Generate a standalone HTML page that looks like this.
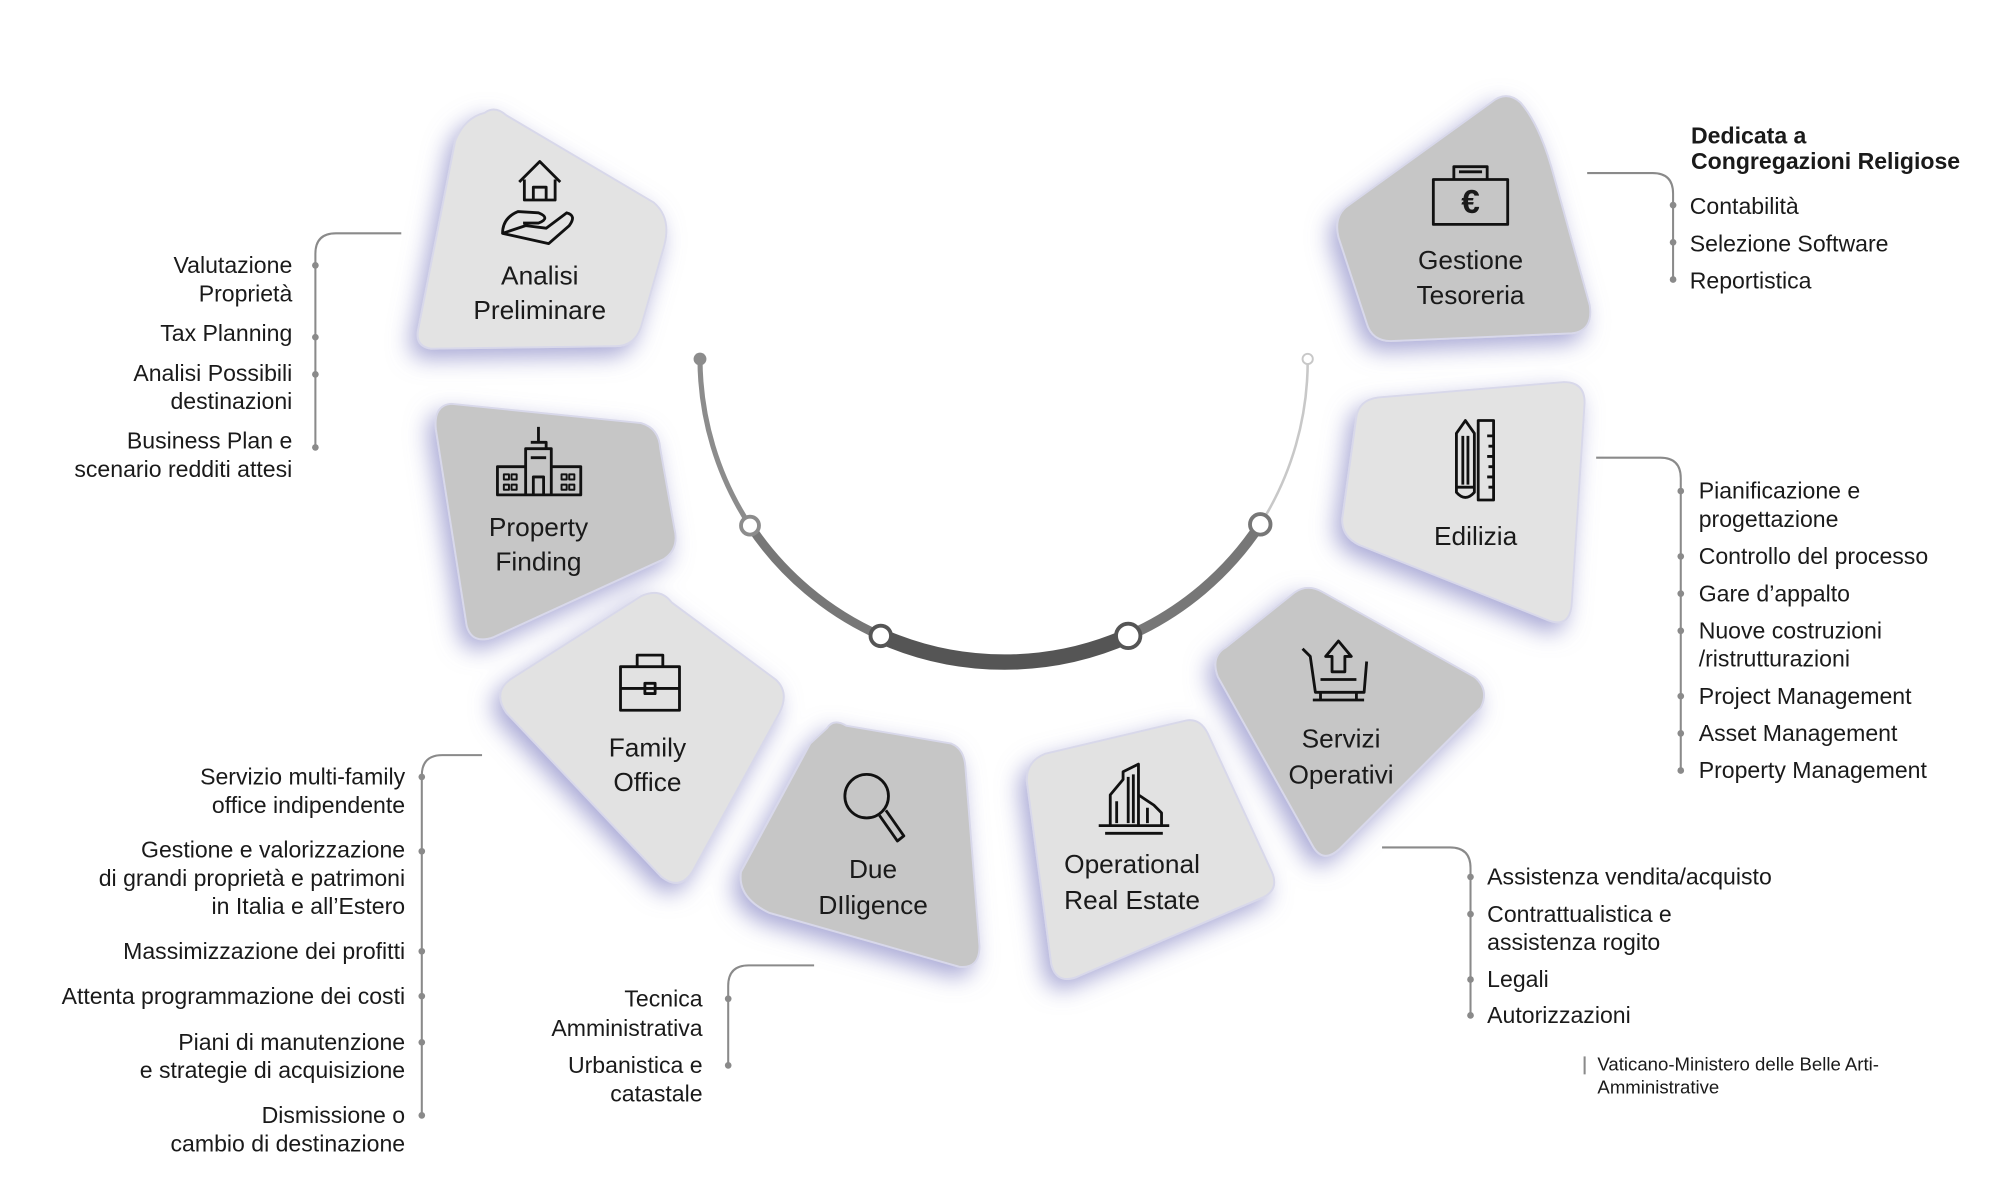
<!DOCTYPE html>
<html><head><meta charset="utf-8"><style>
html,body{margin:0;padding:0;background:#fff}
svg{display:block}
text{font-family:"Liberation Sans",sans-serif;fill:#1a1a1a}
.t{font-size:18px}
.n{font-size:20.5px;text-anchor:middle}
.r{text-anchor:end}
.br{fill:none;stroke:#8a8a8a;stroke-width:1.6}
.d{fill:#8a8a8a}
.ic{fill:none;stroke:#111;stroke-width:2.2;stroke-linejoin:round}
</style></head><body>
<svg width="2000" height="1200" viewBox="0 0 1560 936" xmlns="http://www.w3.org/2000/svg">
<defs>
<filter id="sh" x="-30%" y="-30%" width="160%" height="160%">
<feDropShadow dx="-5" dy="7" stdDeviation="9" flood-color="#7c7cc0" flood-opacity="0.65"/>
</filter>
</defs>

<g filter="url(#sh)" stroke="#d8d8ea" stroke-width="1.5" stroke-linejoin="round">
<path d="M378,88 Q386,82 395,90 L510,158 Q524,170 518,192 L500,255 Q495,270 480,270 L336,272 Q324,270 326,258 L355,110 Q362,92 378,88Z" fill="#e3e3e3"/>
<path d="M352,315 L500,330 Q514,334 515,350 L526,412 Q530,428 518,436 L385,497 Q368,503 364,488 L340,335 Q338,316 352,315Z" fill="#c6c6c6"/>
<path d="M500,465 Q515,458 524,470 L605,530 Q616,540 608,556 L540,680 Q530,695 516,684 L395,556 Q384,540 398,530Z" fill="#e2e2e2"/>
<path d="M645,568 Q650,560 660,566 L742,580 Q752,584 753,598 L764,738 Q764,756 748,754 L600,712 Q575,700 578,680 L632,580Z" fill="#c6c6c6"/>
<path d="M815,588 L925,562 Q936,560 942,572 L992,680 Q998,694 985,700 L840,762 Q824,768 820,752 L801,610 Q800,594 815,588Z" fill="#e2e2e2"/>
<path d="M1010,462 Q1020,455 1032,462 L1150,528 Q1162,538 1155,552 L1045,662 Q1032,674 1024,660 L950,528 Q944,512 956,505Z" fill="#c6c6c6"/>
<path d="M1075,310 L1220,298 Q1236,298 1236,314 L1226,470 Q1225,490 1208,484 L1060,425 Q1046,418 1047,404 L1058,325 Q1060,312 1075,310Z" fill="#e3e3e3"/>
<path d="M1163,80 Q1175,70 1186,80 Q1200,96 1210,130 L1240,238 Q1243,258 1226,260 L1085,266 Q1070,266 1066,252 L1044,185 Q1040,168 1052,160Z" fill="#c6c6c6"/>
</g>

<g fill="none" stroke-linecap="round">
<path d="M546,280 A238,238 0 0 0 585,410" stroke="#8c8c8c" stroke-width="4"/>
<path d="M585,410 A238,238 0 0 0 687,496" stroke="#777" stroke-width="7"/>
<path d="M687,496 A238,238 0 0 0 880,496" stroke="#555" stroke-width="12"/>
<path d="M880,496 A238,238 0 0 0 983,409" stroke="#777" stroke-width="8"/>
<path d="M983,409 A238,238 0 0 0 1020,280" stroke="#c8c8c8" stroke-width="2"/>
</g>
<circle cx="546" cy="280" r="5" fill="#8c8c8c"/>
<circle cx="1020" cy="280" r="4" fill="#fff" stroke="#c8c8c8" stroke-width="1.5"/>
<g fill="#fff" stroke-width="3">
<circle cx="585" cy="410" r="7" stroke="#8c8c8c"/>
<circle cx="687" cy="496" r="8" stroke="#555"/>
<circle cx="880" cy="496" r="9.5" stroke="#555"/>
<circle cx="983" cy="409" r="8" stroke="#777"/>
</g>

<g class="ic">
<path d="M405,142 L421,126 L437,142 M409,140 L409,156 L433,156 L433,140 M416,156 L416,146 L426,146 L426,156"/>
<path d="M392,182 Q392,170 404,165 L420,166 Q430,170 420,174 L408,174 M410,176 L426,178 L442,166 Q450,168 444,176 L428,190 L392,182Z"/>
<path d="M388,386 L453,386 L453,364 L430,364 L430,350 L410,350 L410,364 L388,364Z M410,364 L410,386 M430,364 L430,386 M414,345 L426,345 L426,350 M420,333 L420,345 M414,357 L426,357 M416,386 L416,372 L424,372 L424,386"/>
<path d="M393,370h4v4h-4zM399,370h4v4h-4zM393,378h4v4h-4zM399,378h4v4h-4zM438,370h4v4h-4zM444,370h4v4h-4zM438,378h4v4h-4zM444,378h4v4h-4z" stroke-width="1.5"/>
<path d="M484,520 L530,520 L530,554 L484,554Z M484,537 L530,537 M497,520 L497,511 L517,511 L517,520 M503,533 L511,533 L511,541 L503,541Z"/>
<circle cx="676" cy="621" r="17"/>
<path d="M686,636 L700,656 L705,652 L691,632"/>
<path d="M857,644 L912,644 M862,650 L907,650 M866,644 L866,620 L876,608 L876,602 L888,596 L888,644 M888,620 L900,628 L906,634 L906,644 M871,625 L871,642 M880,606 L880,642 M884,604 L884,642 M895,630 L895,642"/>
<path d="M1016,506 L1022,512 L1026,540 L1064,540 L1066,516 M1030,540 L1030,546 M1058,540 L1058,546 M1024,546 L1064,546 M1030,530 L1058,530"/>
<path d="M1044,500 L1054,512 L1049,512 L1049,524 L1039,524 L1039,512 L1034,512Z"/>
<path d="M1118,140 L1176,140 L1176,175 L1118,175Z M1134,140 L1134,130 L1160,130 L1160,140 M1138,134 L1156,134"/>
<path d="M1136,338 L1143,328 L1150,338 L1150,384 Q1143,392 1136,384Z M1136,380 L1150,380 M1141,340 L1141,378 M1145,340 L1145,378"/>
<path d="M1153,328 L1165,328 L1165,390 L1153,390Z M1165,340 L1160,340 M1165,348 L1161,348 M1165,356 L1160,356 M1165,364 L1161,364 M1165,372 L1160,372 M1165,380 L1161,380"/>
</g>
<text x="1147" y="166" style="font-size:26px;font-weight:bold;text-anchor:middle">€</text>

<text class="n" x="421" y="222">Analisi</text><text class="n" x="421" y="249">Preliminare</text>
<text class="n" x="420" y="418">Property</text><text class="n" x="420" y="445">Finding</text>
<text class="n" x="505" y="590">Family</text><text class="n" x="505" y="617">Office</text>
<text class="n" x="681" y="685">Due</text><text class="n" x="681" y="713">DIligence</text>
<text class="n" x="883" y="681">Operational</text><text class="n" x="883" y="709">Real Estate</text>
<text class="n" x="1046" y="583">Servizi</text><text class="n" x="1046" y="611">Operativi</text>
<text class="n" x="1151" y="425">Edilizia</text>
<text class="n" x="1147" y="210">Gestione</text><text class="n" x="1147" y="237">Tesoreria</text>

<path class="br" d="M313,182 L262,182 Q246,182 246,198 L246,349"/>
<g class="d"><circle cx="246" cy="207" r="2.6"/><circle cx="246" cy="263" r="2.6"/><circle cx="246" cy="292" r="2.6"/><circle cx="246" cy="349" r="2.6"/></g>
<text class="t r" x="228" y="213">Valutazione</text><text class="t r" x="228" y="235">Proprietà</text>
<text class="t r" x="228" y="266">Tax Planning</text>
<text class="t r" x="228" y="297">Analisi Possibili</text><text class="t r" x="228" y="319">destinazioni</text>
<text class="t r" x="228" y="350">Business Plan e</text><text class="t r" x="228" y="372">scenario redditi attesi</text>

<path class="br" d="M376,589 L345,589 Q329,589 329,605 L329,870"/>
<g class="d"><circle cx="329" cy="606" r="2.6"/><circle cx="329" cy="664" r="2.6"/><circle cx="329" cy="742" r="2.6"/><circle cx="329" cy="777" r="2.6"/><circle cx="329" cy="813" r="2.6"/><circle cx="329" cy="870" r="2.6"/></g>
<text class="t r" x="316" y="612">Servizio multi-family</text><text class="t r" x="316" y="634">office indipendente</text>
<text class="t r" x="316" y="669">Gestione e valorizzazione</text><text class="t r" x="316" y="691">di grandi proprietà e patrimoni</text><text class="t r" x="316" y="713">in Italia e all’Estero</text>
<text class="t r" x="316" y="748">Massimizzazione dei profitti</text>
<text class="t r" x="316" y="783">Attenta programmazione dei costi</text>
<text class="t r" x="316" y="819">Piani di manutenzione</text><text class="t r" x="316" y="841">e strategie di acquisizione</text>
<text class="t r" x="316" y="876">Dismissione o</text><text class="t r" x="316" y="898">cambio di destinazione</text>

<path class="br" d="M635,753 L584,753 Q568,753 568,769 L568,831"/>
<g class="d"><circle cx="568" cy="779" r="2.6"/><circle cx="568" cy="831" r="2.6"/></g>
<text class="t r" x="548" y="785">Tecnica</text><text class="t r" x="548" y="808">Amministrativa</text>
<text class="t r" x="548" y="837">Urbanistica e</text><text class="t r" x="548" y="859">catastale</text>

<path class="br" d="M1078,661 L1131,661 Q1147,661 1147,677 L1147,792"/>
<g class="d"><circle cx="1147" cy="684" r="2.6"/><circle cx="1147" cy="713" r="2.6"/><circle cx="1147" cy="764" r="2.6"/><circle cx="1147" cy="792" r="2.6"/></g>
<text class="t" x="1160" y="690">Assistenza vendita/acquisto</text>
<text class="t" x="1160" y="719">Contrattualistica e</text><text class="t" x="1160" y="741">assistenza rogito</text>
<text class="t" x="1160" y="770">Legali</text>
<text class="t" x="1160" y="798">Autorizzazioni</text>
<path class="br" d="M1236,824 L1236,838"/>
<text x="1246" y="835" style="font-size:14.5px">Vaticano-Ministero delle Belle Arti-</text>
<text x="1246" y="853" style="font-size:14.5px">Amministrative</text>

<path class="br" d="M1245,357 L1295,357 Q1311,357 1311,373 L1311,601"/>
<g class="d"><circle cx="1311" cy="383" r="2.6"/><circle cx="1311" cy="434" r="2.6"/><circle cx="1311" cy="463" r="2.6"/><circle cx="1311" cy="492" r="2.6"/><circle cx="1311" cy="543" r="2.6"/><circle cx="1311" cy="572" r="2.6"/><circle cx="1311" cy="601" r="2.6"/></g>
<text class="t" x="1325" y="389">Pianificazione e</text><text class="t" x="1325" y="411">progettazione</text>
<text class="t" x="1325" y="440">Controllo del processo</text>
<text class="t" x="1325" y="469">Gare d’appalto</text>
<text class="t" x="1325" y="498">Nuove costruzioni</text><text class="t" x="1325" y="520">/ristrutturazioni</text>
<text class="t" x="1325" y="549">Project Management</text>
<text class="t" x="1325" y="578">Asset Management</text>
<text class="t" x="1325" y="607">Property Management</text>

<path class="br" d="M1238,135 L1289,135 Q1305,135 1305,151 L1305,218"/>
<g class="d"><circle cx="1305" cy="160" r="2.6"/><circle cx="1305" cy="189" r="2.6"/><circle cx="1305" cy="218" r="2.6"/></g>
<text x="1319" y="112" style="font-size:18px;font-weight:bold">Dedicata a</text>
<text x="1319" y="132" style="font-size:18px;font-weight:bold">Congregazioni Religiose</text>
<text class="t" x="1318" y="167">Contabilità</text>
<text class="t" x="1318" y="196">Selezione Software</text>
<text class="t" x="1318" y="225">Reportistica</text>
</svg>
</body></html>
